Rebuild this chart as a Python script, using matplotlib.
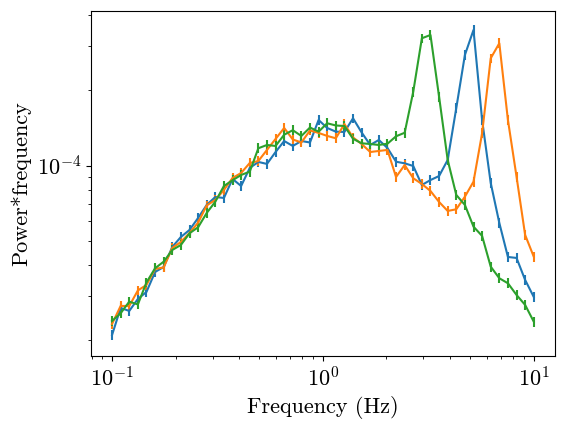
import numpy as np
import matplotlib
matplotlib.use("Agg")
import matplotlib.pyplot as plt

plt.rcParams.update({
    "font.family": "serif",
    "font.serif": ["cmr10", "DejaVu Serif"],
    "mathtext.fontset": "cm",
    "axes.formatter.use_mathtext": True,
    "axes.unicode_minus": False,
    "font.size": 16,
})

# frequency grid (Hz), log-spaced 0.1 .. 10
freq = [0.1, 0.10985, 0.12068, 0.13257, 0.14563, 0.15999, 0.17575, 0.19307,
        0.21210, 0.23300, 0.25595, 0.28118, 0.30888, 0.33932, 0.37276, 0.40949,
        0.44984, 0.49417, 0.54287, 0.59636, 0.65513, 0.71969, 0.79060, 0.86851,
        0.95410, 1.04811, 1.15140, 1.26486, 1.38950, 1.52642, 1.67683, 1.84207,
        2.02359, 2.22300, 2.44205, 2.68270, 2.94705, 3.23746, 3.55648, 3.90694,
        4.29193, 4.71487, 5.17947, 5.68987, 6.25055, 6.86649, 7.54312, 8.28643,
        9.10298, 10.0]

# power*frequency in units of 1e-5
blue = [2.102, 2.697, 2.623, 2.930, 3.125, 3.756, 3.933, 4.730, 5.186, 5.531,
        6.178, 6.964, 7.495, 7.426, 8.847, 8.293, 9.79, 10.35, 10.16, 11.34,
        12.55, 11.99, 12.55, 12.38, 15.23, 14.15, 13.68, 13.64, 15.47, 13.58,
        12.10, 12.67, 11.77, 10.37, 10.22, 9.97, 8.37, 8.76, 9.09, 10.54,
        17.01, 27.72, 34.90, 15.23, 8.53, 5.90, 4.313, 4.274, 3.490, 2.985]

orange = [2.327, 2.747, 2.747, 3.168, 3.333, 3.862, 3.916, 4.687, 4.952, 5.380,
          5.916, 6.932, 7.292, 7.993, 8.929, 9.35, 10.25, 10.44, 11.56, 12.79,
          14.15, 12.73, 12.38, 13.83, 13.52, 13.15, 12.87, 14.68, 12.97, 12.21,
          11.34, 11.45, 11.56, 9.01, 10.06, 8.905, 8.448, 7.92, 7.159, 6.589,
          6.693, 7.516, 8.630, 13.48, 26.89, 30.88, 15.23, 9.04, 5.282, 4.325]

green = [2.392, 2.568, 2.858, 2.785, 3.411, 3.887, 4.130, 4.600, 4.817, 5.365,
         5.670, 6.469, 7.178, 8.293, 8.742, 9.180, 9.462, 11.74, 12.10, 11.99,
         13.30, 13.86, 13.15, 14.21, 13.68, 14.78, 14.48, 14.41, 12.81, 12.29,
         12.21, 12.10, 12.24, 13.11, 13.54, 19.77, 32.33, 33.33, 18.88, 10.54,
         7.635, 6.964, 5.702, 5.234, 3.945, 3.545, 3.385, 3.040, 2.772, 2.377]

rel_err = 0.045
scale = 1e-5

fig = plt.figure(figsize=(5.65, 4.26), dpi=100)
ax = fig.add_axes([0.161, 0.164, 0.821, 0.811])

for series, col in [(blue, "C0"), (orange, "C1"), (green, "C2")]:
    y = np.array(series) * scale
    ax.errorbar(freq, y, yerr=rel_err * y, color=col)

ax.set_xscale("log")
ax.set_yscale("log")
ax.set_ylim(1.73e-5, 4.17e-4)
ax.set_xlabel("Frequency (Hz)")
ax.set_ylabel("Power*frequency")

fig.savefig("out.png", dpi=100)
